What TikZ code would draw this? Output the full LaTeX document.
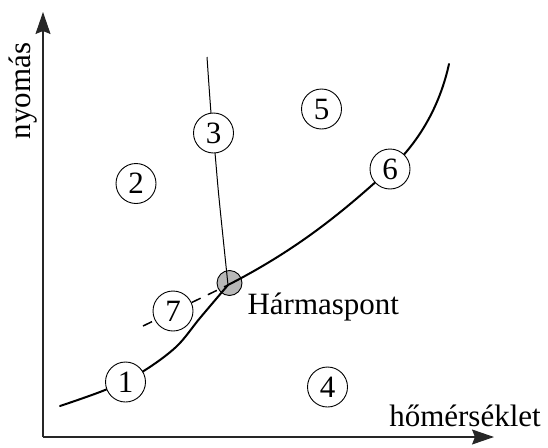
\documentclass[tikz,border=0pt]{standalone}
\usepackage{fontspec}
\setmainfont{Liberation Serif}
\usetikzlibrary{arrows.meta}
\begin{document}
\begin{tikzpicture}[x=1pt,y=-1pt,
  every node/.style={font=\fontsize{31}{36}\selectfont},
  phase/.style={circle,draw,line width=0.9pt,fill=white,minimum size=40pt,inner sep=0pt},
  axis/.style={line width=1.1pt,black!85,-{Stealth[length=22pt,width=15pt,inset=3pt]}},
  boundary/.style={line width=2pt,line cap=round},
  thinline/.style={line width=1pt},
  dashline/.style={line width=1.5pt,dash pattern=on 10pt off 8pt}]
\useasboundingbox (0,0) rectangle (548,447);
% axes
\coordinate (O) at (43,437);
\coordinate (Ytip) at (43,12);
\coordinate (Xtip) at (494,437);
\draw[axis] (O) -- (Ytip);
\draw[axis] (O) -- (Xtip);
\node[rotate=90] (ylab) at (23,91) {nyomás};
\node (xlab) at (465,416) {hőmérséklet};
% triple point marker
\coordinate (T) at (228,285);
\node[circle,draw,line width=0.9pt,fill=black!28,minimum size=25pt,inner sep=0pt] (tp) at (229.5,283) {};
% boundaries
\draw[boundary] plot[smooth,tension=0.55] coordinates {(60,406) (105,390) (142,372) (176,347) (200,318) (T)};
\coordinate (E) at (449,64);
\draw[boundary] (T) .. controls (300,248) and (345,210) .. (390,169) .. controls (420,141) and (440,105) .. (E);
\draw[thinline] plot[smooth] coordinates {(207,57) (211,113) (215,153) (219,198) (T)};
\coordinate (D) at (143,326);
\draw[dashline] (D) -- (T);
\node[anchor=base west] (tplab) at (244,314) {Hármaspont};
% phase labels
\node[phase] (p1) at (125.5,382) {1};
\node[phase] (p2) at (136,183.5) {2};
\node[phase] (p3) at (213.5,133) {3};
\node[phase] (p4) at (327.5,387) {4};
\node[phase] (p5) at (321.5,109) {5};
\node[phase] (p6) at (390,169) {6};
\node[phase] (p7) at (173,311) {7};
\end{tikzpicture}
\end{document}
